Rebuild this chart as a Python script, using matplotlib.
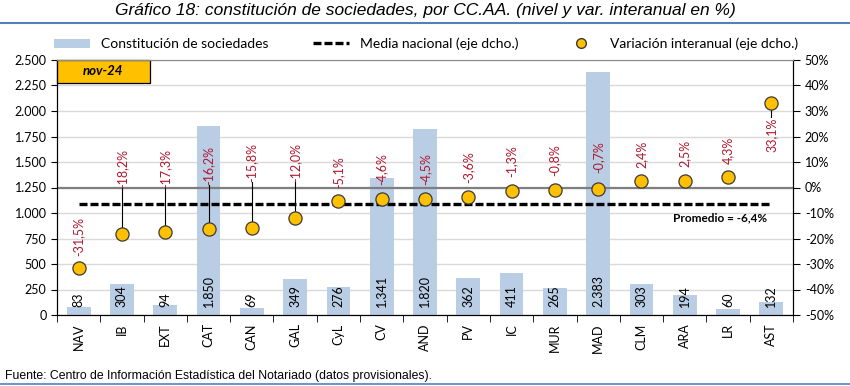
import numpy as np
import matplotlib
matplotlib.use("Agg")
import matplotlib.pyplot as plt
from matplotlib.patches import Rectangle, Patch
from matplotlib.lines import Line2D

# datos
regiones = ["NAV", "IB", "EXT", "CAT", "CAN", "GAL", "CyL", "CV", "AND",
            "PV", "IC", "MUR", "MAD", "CLM", "ARA", "LR", "AST"]
sociedades = [83, 304, 94, 1850, 69, 349, 276, 1341, 1820,
              362, 411, 265, 2383, 303, 194, 60, 132]
variacion = [-31.5, -18.2, -17.3, -16.2, -15.8, -12.0, -5.1, -4.6, -4.5,
             -3.6, -1.3, -0.8, -0.7, 2.4, 2.5, 4.3, 33.1]
media = -6.4
periodo = "nov-24"

# posicion de las etiquetas de variacion (eje dcho.) y lineas guia
pos_etiq = [-27, 0, 0, 0.8, 2, 2, 0, 1, 1, 1.6, 4, 4.7, 5.5, 7.5, 8, 9.4, 27.5]
con_guia = [False, True, True, True, True, True, False, False, False,
            False, False, False, False, False, False, False, True]

AZUL = "#B9CDE5"
AMARILLO = "#FFC000"
ROJO = "#B0182E"

plt.rcParams["font.family"] = ["Lato", "DejaVu Sans"]

fig = plt.figure(figsize=(8.5, 3.86), dpi=100)
ax = fig.add_axes([57/850, 71/386, 736/850, 255/386])
ax2 = ax.twinx()

x = np.arange(len(regiones))

# barras
ax.bar(x, sociedades, width=0.55, color=AZUL, zorder=2)
for xi, v in zip(x, sociedades):
    ax.text(xi, 75, f"{v:,}".replace(",", "."), rotation=90, ha="center",
            va="bottom", fontsize=9, color="black", zorder=3)

ax.set_ylim(0, 2500)
ax.set_yticks(np.arange(0, 2501, 250))
ax.set_yticklabels([f"{v:,}".replace(",", ".") for v in range(0, 2501, 250)])
ax.yaxis.grid(True, color="#D9D9D9", lw=1.0, zorder=0)
ax.set_axisbelow(True)
ax.set_xlim(-0.5, len(regiones) - 0.5)
ax.set_xticks(x)
ax.set_xticklabels(regiones, rotation=90, fontsize=9)
ax.tick_params(axis="x", length=0, pad=6)
ax.set_xticks(np.arange(-0.5, len(regiones), 1), minor=True)
ax.tick_params(axis="x", which="minor", length=5, direction="out", color="black")
ax.tick_params(axis="y", labelsize=9, length=4, color="black")

# eje derecho
ax2.set_ylim(-50, 50)
ax2.set_yticks(np.arange(-50, 51, 10))
ax2.set_yticklabels([f"{v}%" for v in range(-50, 51, 10)])
ax2.tick_params(axis="y", labelsize=9, length=5, color="black")
ax2.axhline(0, color="#7F7F7F", lw=1.6, zorder=1)

ax2.plot(x, [media] * len(x), color="black", lw=2.4,
         linestyle=(0, (2.4, 0.9)), zorder=3)
ax2.text(15.9, -11.8, f"Promedio = {media:.1f}%".replace(".", ","),
         ha="right", va="center", fontsize=8.5, fontweight="bold")

for xi, v, p, g in zip(x, variacion, pos_etiq, con_guia):
    if g:
        ax2.plot([xi, xi], [v, p], color="black", lw=0.8, zorder=3)
    ax2.text(xi, p, f"{v:.1f}%".replace(".", ","), rotation=90, ha="center",
             va="top" if p < v else "bottom", fontsize=9, color=ROJO, zorder=4)

ax2.scatter(x, variacion, s=90, color=AMARILLO, edgecolor="#3A3A3A",
            linewidth=0.9, zorder=5)

for a in (ax, ax2):
    a.spines["top"].set_color("#8C8C8C")
    a.spines["left"].set_color("black")
    a.spines["right"].set_color("black")
    a.spines["bottom"].set_color("black")

# cuadro del periodo
ax.add_patch(Rectangle((0, 0.91), 0.126, 0.09, transform=ax.transAxes,
                       facecolor=AMARILLO, edgecolor="black", lw=0.9,
                       zorder=6, clip_on=False))
ax.text(0.063, 0.955, periodo, transform=ax.transAxes, ha="center",
        va="center", fontsize=9.5, fontweight="bold", fontstyle="italic",
        zorder=7)
ax2.set_zorder(ax.get_zorder() + 1)
ax2.patch.set_visible(False)
ax.patch.set_visible(True)

# leyenda
handles = [Patch(facecolor=AZUL, edgecolor="none"),
           Line2D([], [], color="black", lw=2.4, linestyle=(0, (2.4, 0.9))),
           Line2D([], [], marker="o", ls="none", markersize=7,
                  markerfacecolor=AMARILLO, markeredgecolor="#3A3A3A")]
labels = ["Constitución de sociedades", "Media nacional (eje dcho.)",
          "Variación interanual (eje dcho.)"]
fig.legend(handles, labels, loc="center", ncol=3, frameon=False,
           bbox_to_anchor=(48/850, 1 - 52/386, 756/850, 16/386),
           mode="expand", fontsize=10, handlelength=2.6, handletextpad=0.8,
           borderaxespad=0)

# titulo y fuente
fig.text(0.5, 1 - 10/386,
         "Gráfico 18: constitución de sociedades, por CC.AA. (nivel y var. interanual en %)",
         ha="center", va="center", fontsize=12.5, fontstyle="italic",
         family=["Liberation Sans", "DejaVu Sans"])
fig.add_artist(Line2D([0, 1], [1 - 23/386] * 2, color="#4F81BD", lw=1.5))
fig.text(5/850, 1 - 376/386,
         "Fuente: Centro de Información Estadística del Notariado (datos provisionales).",
         ha="left", va="center", fontsize=8.8,
         family=["Liberation Sans", "DejaVu Sans"])
fig.add_artist(Line2D([0, 1], [1 - 384/386] * 2, color="#4F81BD", lw=1.2))

fig.savefig("out.png", dpi=100)
